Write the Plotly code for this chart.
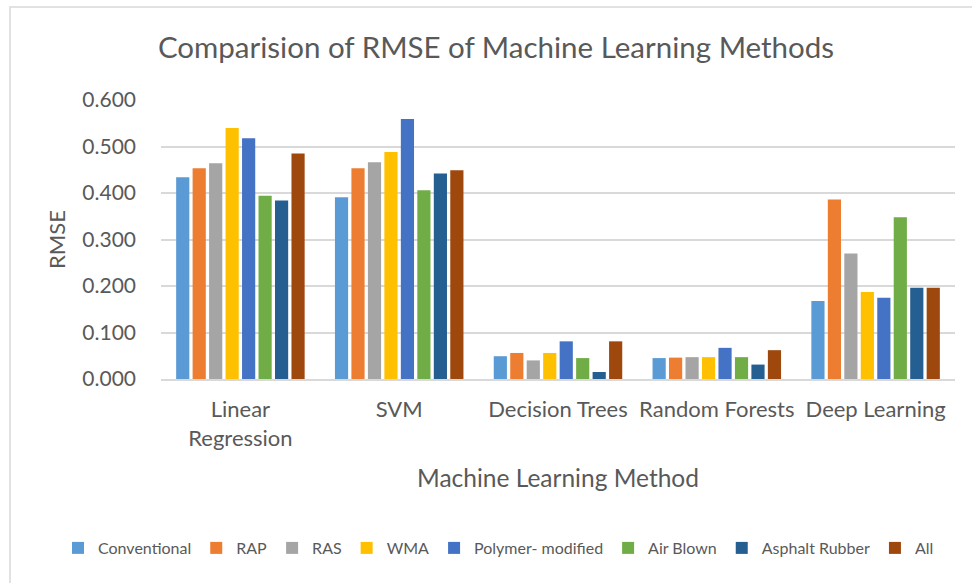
import plotly.graph_objects as go

categories = ["Linear<br>Regression", "SVM", "Decision Trees", "Random Forests", "Deep Learning"]

series_names = ["Conventional", "RAP", "RAS", "WMA", "Polymer- modified",
                "Air Blown", "Asphalt Rubber", "All"]

conventional = [0.434, 0.391, 0.049, 0.045, 0.168]
rap = [0.453, 0.453, 0.056, 0.046, 0.386]
ras = [0.464, 0.466, 0.040, 0.047, 0.270]
wma = [0.540, 0.488, 0.056, 0.047, 0.187]
polymer = [0.518, 0.559, 0.081, 0.067, 0.175]
air_blown = [0.394, 0.406, 0.045, 0.047, 0.348]
asphalt_rubber = [0.384, 0.442, 0.015, 0.031, 0.196]
all_types = [0.485, 0.449, 0.081, 0.062, 0.196]

series_values = [conventional, rap, ras, wma, polymer, air_blown, asphalt_rubber, all_types]
colors = ["#5B9BD5", "#ED7D31", "#A5A5A5", "#FFC000", "#4472C4",
          "#70AD47", "#255E91", "#9E480E"]

FONT = "Lato"
TXT = "#595959"

fig = go.Figure()
for name, vals, col in zip(series_names, series_values, colors):
    fig.add_trace(go.Bar(x=categories, y=vals, name=name, marker_color=col,
                         marker_line_width=0))

fig.update_layout(
    width=972, height=583,
    margin=dict(l=161, r=17, t=100, b=204),
    paper_bgcolor="white", plot_bgcolor="white",
    font=dict(family=FONT, color=TXT, size=21),
    barmode="group", bargap=0.17, bargroupgap=0.2,
    title=dict(text="Comparision of RMSE of Machine Learning Methods",
               x=496 / 972, xref="container", xanchor="center",
               y=1 - 48 / 583, yref="container", yanchor="middle",
               font=dict(family=FONT, size=29.5, color=TXT)),
    xaxis=dict(showgrid=False, showline=True, linecolor="#D9D9D9", linewidth=1.5,
               tickfont=dict(size=22, color=TXT), ticks="",
               ticklabelstandoff=10,
               title=dict(text="Machine Learning Method", font=dict(size=24.5, color=TXT),
                          standoff=20)),
    yaxis=dict(range=[0, 0.6], dtick=0.1, tickformat=".3f",
               showgrid=True, gridcolor="#D9D9D9", gridwidth=1.5,
               zeroline=False, showline=False, ticks="",
               ticklabelstandoff=24,
               tickfont=dict(size=21, color=TXT),
               title=dict(text="RMSE", font=dict(size=22, color=TXT), standoff=10)),
    legend=dict(orientation="h", xref="paper", x=(58 - 161) / 794, xanchor="left",
                yref="paper", y=-(548 - 379) / 279, yanchor="middle",
                font=dict(size=16, color=TXT), itemwidth=30,
                traceorder="normal"),
    shapes=[dict(type="rect", xref="paper", yref="paper",
                 x0=(10 - 161) / 794, x1=(980 - 161) / 794,
                 y0=-(590 - 379) / 279, y1=1 + (100 - 7) / 279,
                 line=dict(color="#D9D9D9", width=1.5), fillcolor="rgba(0,0,0,0)",
                 layer="below")],
)

fig.write_html("out.html", config={"displayModeBar": False},
               post_script="document.body.style.margin='0px';")
